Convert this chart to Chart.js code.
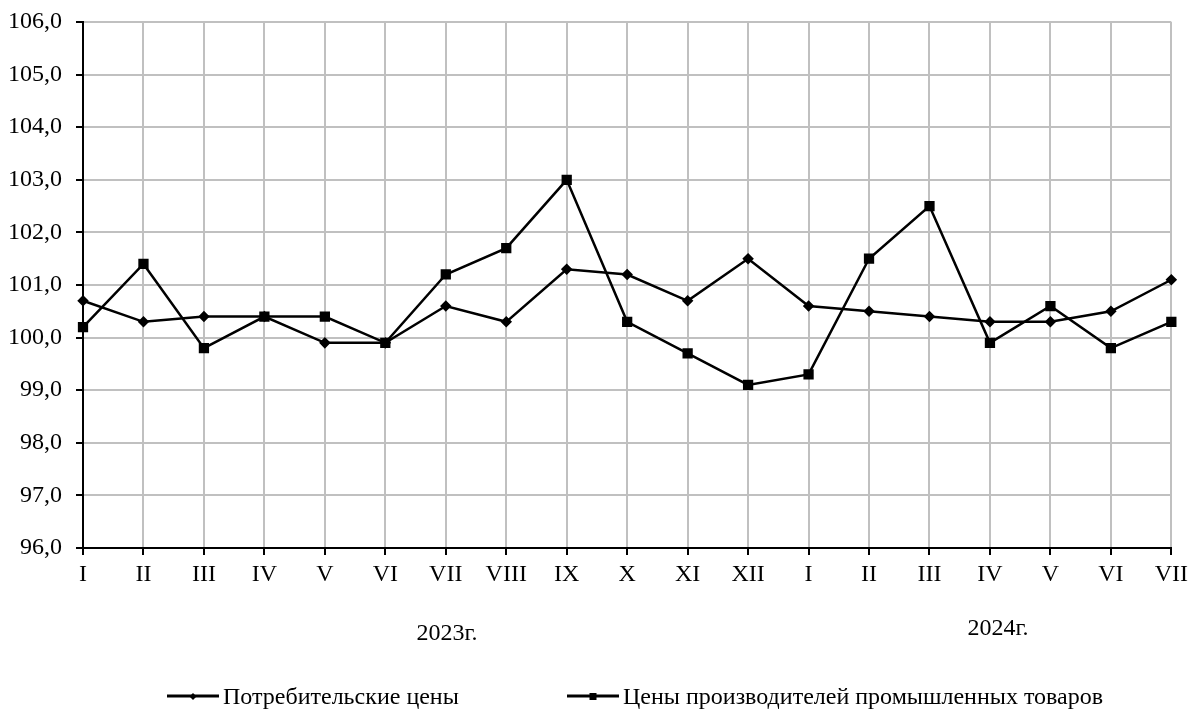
<!DOCTYPE html>
<html>
<head>
<meta charset="utf-8">
<script src="https://cdn.jsdelivr.net/npm/chart.js@4"></script>
<style>
  html, body { margin: 0; padding: 0; background: #fff; }
  #wrap { position: relative; width: 1193px; height: 709px; font-family: 'Liberation Serif', 'Times New Roman', serif; color: #000; }
  canvas { position: absolute; left: 0; top: 0; }
  .year { position: absolute; font-size: 24px; transform: translate(-50%, -50%); white-space: nowrap; }
  .leg { position: absolute; font-size: 24px; white-space: nowrap; display: flex; align-items: center; transform: translateY(-50%); }
  .leg .mk { position: relative; width: 52px; height: 3px; background: #000; margin-right: 4px; }
  .leg .mk i { position: absolute; left: 50%; top: 50%; background: #000; }
  .leg .diamond i { width: 5px; height: 5px; transform: translate(-50%, -50%) rotate(45deg); }
  .leg .square i { width: 7px; height: 7px; transform: translate(-50%, -50%); }
</style>
</head>
<body>
<div id="wrap">
  <canvas id="chart" width="1193" height="709"></canvas>
  <div class="year" style="left:447px; top:632px;">2023г.</div>
  <div class="year" style="left:998px; top:627px;">2024г.</div>
  <div class="leg" style="left:167px; top:696px;"><span class="mk diamond"><i></i></span>Потребительские цены</div>
  <div class="leg" style="left:567px; top:696px;"><span class="mk square"><i></i></span>Цены производителей промышленных товаров</div>
</div>
<script>
// Months: 2023 I..XII, 2024 I..VII
const months = ['I', 'II', 'III', 'IV', 'V', 'VI', 'VII', 'VIII', 'IX', 'X', 'XI', 'XII',
                'I', 'II', 'III', 'IV', 'V', 'VI', 'VII'];

const consumerPrices = [100.7, 100.3, 100.4, 100.4, 99.9, 99.9, 100.6, 100.3, 101.3, 101.2, 100.7, 101.5,
                        100.6, 100.5, 100.4, 100.3, 100.3, 100.5, 101.1];

const producerPrices = [100.2, 101.4, 99.8, 100.4, 100.4, 99.9, 101.2, 101.7, 103.0, 100.3, 99.7, 99.1,
                        99.3, 101.5, 102.5, 99.9, 100.6, 99.8, 100.3];

const yMin = 96;
const yMax = 106;
const yStep = 1;

const font = { family: "'Liberation Serif', 'Times New Roman', serif", size: 24 };

const ctx = document.getElementById('chart').getContext('2d');
new Chart(ctx, {
    type: 'line',
    data: {
        labels: months,
        datasets: [{
            label: 'Потребительские цены',
            data: consumerPrices,
            borderColor: '#000',
            backgroundColor: '#000',
            borderWidth: 2.5,
            pointStyle: 'rectRot',
            pointRadius: 4,
            tension: 0,
            fill: false,
        }, {
            label: 'Цены производителей промышленных товаров',
            data: producerPrices,
            borderColor: '#000',
            backgroundColor: '#000',
            borderWidth: 2.5,
            pointStyle: 'rect',
            pointRadius: 5.5,
            tension: 0,
            fill: false,
        }],
    },
    options: {
        responsive: false,
        animation: false,
        layout: { padding: { left: 0, top: 22, right: 18, bottom: 111 } },
        plugins: {
            legend: { display: false },
            tooltip: { enabled: false },
        },
        scales: {
            x: {
                offset: false,
                grid: { color: '#c0c0c0', lineWidth: 2, tickColor: '#000', tickLength: 7, offset: false },
                border: { color: '#000', width: 2 },
                ticks: { color: '#000', font: font, padding: 5, maxRotation: 0, autoSkip: false },
                afterFit: (scale) => { scale.height = 50; },
            },
            y: {
                min: yMin,
                max: yMax,
                grid: { color: '#c0c0c0', lineWidth: 2, tickColor: '#000', tickLength: 7 },
                border: { color: '#000', width: 2 },
                ticks: {
                    stepSize: yStep,
                    color: '#000',
                    font: font,
                    padding: 14,
                    callback: (v) => v.toFixed(1).replace('.', ','),
                },
                afterFit: (scale) => {
                    scale.width = 83;
                    scale.paddingTop = 0;
                    scale.paddingBottom = 0;
                },
            },
        },
    },
});
</script>
</body>
</html>
